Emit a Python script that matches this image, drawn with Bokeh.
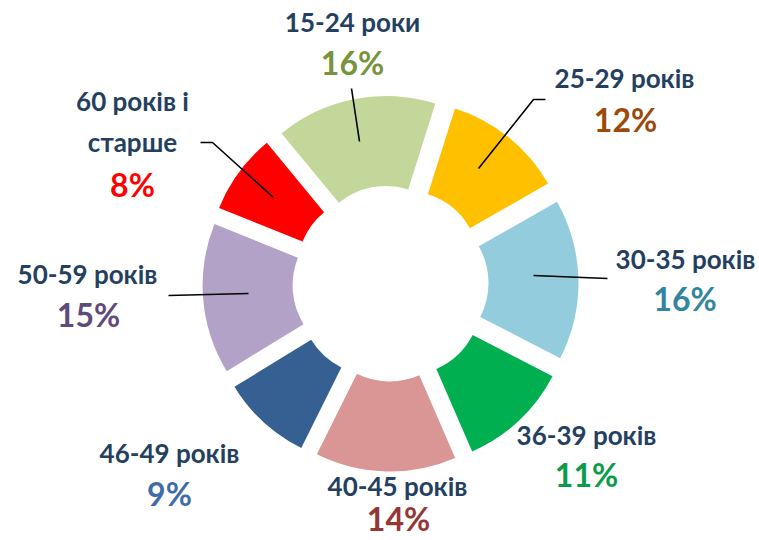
import math
from bokeh.plotting import figure
from bokeh.models import Range1d, ColumnDataSource
from bokeh.embed import file_html
from bokeh.resources import INLINE
from bokeh.core.properties import value

# ---------------- data ----------------
categories = ["15-24 роки", "25-29 років", "30-35 років", "36-39 років",
              "40-45 років", "46-49 років", "50-59 років", "60 років і\nстарше"]
shares = [16, 12, 16, 11, 14, 9, 15, 8]
pct_text = ["16%", "12%", "16%", "11%", "14%", "9%", "15%", "8%"]

# ---------------- styles ----------------
slice_colors = ["#C4D79B", "#FFC000", "#93CDDD", "#00B050",
                "#DA9694", "#366092", "#B3A2C7", "#FF0000"]
pct_colors = ["#77933C", "#9C4A0A", "#31859C", "#0A9C4A",
              "#953735", "#3F6CA8", "#604A7B", "#FF0000"]
cat_color = "#253F60"

# label positions (image pixel coords: centre x, visual middle y)
cat_pos = [(352, 21.5), (624, 77.5), (685, 258), (586, 434), (397, 485), (169, 452), (87, 273), (132, 100)]
pct_pos = [(352, 62), (625, 119), (684.5, 297.5), (586, 473.5), (398, 518), (169, 492.5), (88, 313.5), (132, 184)]
line_gap = 41

# leader lines (image pixel coords)
leaders = [
    [(351, 88), (359, 141)],
    [(545, 99), (533, 99), (478, 168)],
    [(533, 275), (607, 278)],
    [(168, 295), (248, 293)],
    [(200, 142), (212, 142), (273, 197)],
]

IMG_W, IMG_H = 759, 540
cx0, cy0 = 390, IMG_H - 283
r_in, r_out, explode = 74, 164, 24
start_deg = -39.5

p = figure(width=IMG_W, height=IMG_H, x_range=Range1d(0, IMG_W), y_range=Range1d(0, IMG_H),
           output_backend="svg", toolbar_location=None, min_border=0)
p.axis.visible = False
p.grid.visible = False
p.outline_line_color = None
p.background_fill_color = "white"
p.border_fill_color = "white"

total = float(sum(shares))
xs, ys, sa, ea = [], [], [], []
cum = 0.0
for v in shares:
    ts = start_deg + cum / total * 360.0
    te = start_deg + (cum + v) / total * 360.0
    tm = math.radians((ts + te) / 2.0)
    xs.append(cx0 + explode * math.sin(tm))
    ys.append(cy0 + explode * math.cos(tm))
    sa.append(math.radians(90.0 - ts))
    ea.append(math.radians(90.0 - te))
    cum += v

src = ColumnDataSource(dict(x=xs, y=ys, sa=sa, ea=ea, color=slice_colors, cat=categories, share=shares))
p.annular_wedge(x="x", y="y", inner_radius=r_in, outer_radius=r_out, start_angle="sa", end_angle="ea",
                direction="clock", fill_color="color", line_color=None, source=src)

# leader lines
p.multi_line(xs=[[pt[0] for pt in l] for l in leaders],
             ys=[[IMG_H - pt[1] for pt in l] for l in leaders],
             line_color="black", line_width=1.6)

# category labels
tx, ty, tt = [], [], []
for name, (x, ym) in zip(categories, cat_pos):
    parts = name.split("\n")
    for i, part in enumerate(parts):
        tx.append(x)
        ty.append(IMG_H - (ym + i * line_gap))
        tt.append(part)
p.text(x=tx, y=ty, text=tt, text_font=value("Lato"), text_font_style="bold",
       text_font_size="26px", text_align="center", text_baseline="middle", text_color=cat_color)

# percent labels
p.text(x=[pp[0] for pp in pct_pos], y=[IMG_H - pp[1] for pp in pct_pos], text=pct_text,
       text_font=value("Lato"), text_font_style="bold", text_font_size="32px",
       text_align="center", text_baseline="middle", text_color=pct_colors)

open("out.html", "w").write(file_html(p, INLINE))
